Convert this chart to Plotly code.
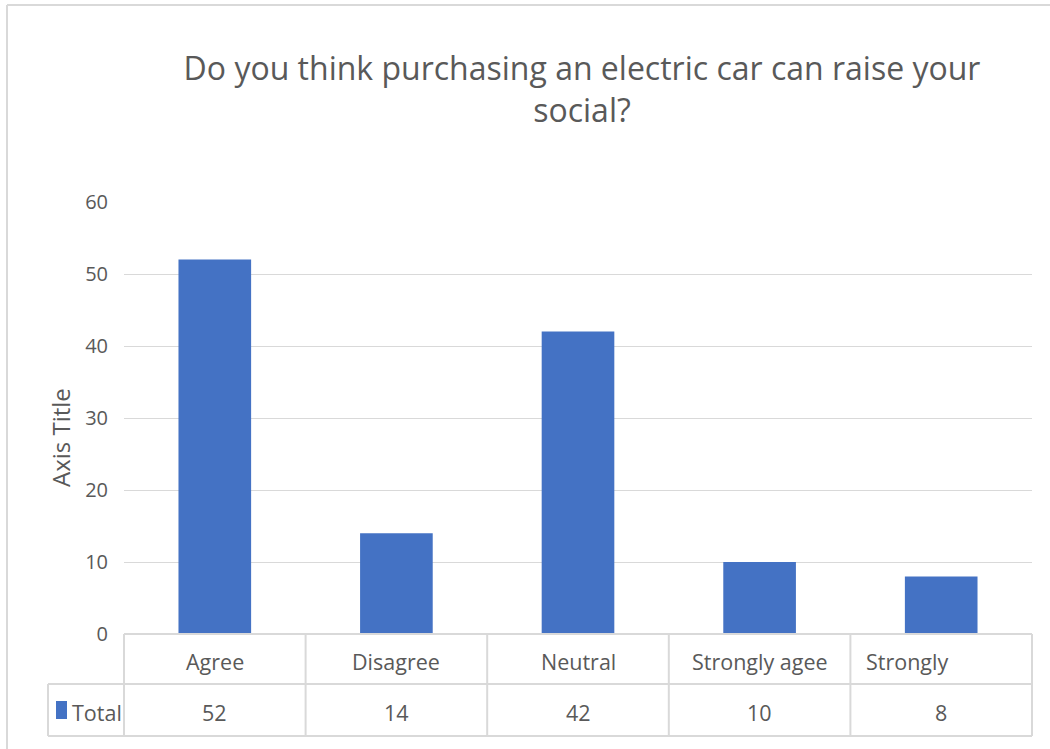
import plotly.graph_objects as go

categories = ["Agree", "Disagree", "Neutral", "Strongly agee", "Strongly"]
values = [52, 14, 42, 10, 8]
series_name = "Total"
title_text = "Do you think purchasing an electric car can raise your<br>social?"
y_title = "Axis Title"
y_ticks = [0, 10, 20, 30, 40, 50, 60]

W, H = 1050, 749
L, R, T, B = 124, 18, 202, 115
PW, PH = W - L - R, H - T - B
FONT = "Open Sans"
TXT = "#595959"
GRID = "#D9D9D9"
BLUE = "#4472C4"


def px(xpix):
    return (xpix - L) / PW


def py(ypix):
    return (H - B - ypix) / PH


fig = go.Figure()
fig.add_trace(go.Bar(x=categories, y=values, name=series_name,
                     marker=dict(color=BLUE, line=dict(width=0)),
                     showlegend=False))

shapes = []
line = dict(color=GRID, width=2)
# frame
shapes.append(dict(type="line", xref="paper", yref="paper", x0=px(7), x1=px(1052), y0=py(5), y1=py(5), line=line))
shapes.append(dict(type="line", xref="paper", yref="paper", x0=px(7), x1=px(7), y0=py(5), y1=py(751), line=line))
# table horizontal lines
row1_top, row2_top, row2_bot = 634, 684, 736
shapes.append(dict(type="line", xref="paper", yref="paper", x0=0, x1=1, y0=py(row1_top), y1=py(row1_top), line=line))
shapes.append(dict(type="line", xref="paper", yref="paper", x0=px(48), x1=1, y0=py(row2_top), y1=py(row2_top), line=line))
shapes.append(dict(type="line", xref="paper", yref="paper", x0=px(48), x1=1, y0=py(row2_bot), y1=py(row2_bot), line=line))
shapes.append(dict(type="line", xref="paper", yref="paper", x0=px(48), x1=px(48), y0=py(row2_top), y1=py(row2_bot), line=line))
# table vertical lines at category boundaries
n = len(categories)
for i in range(n + 1):
    shapes.append(dict(type="line", xref="paper", yref="paper", x0=i / n, x1=i / n,
                       y0=py(row1_top), y1=py(row2_bot), line=line))
# legend key
shapes.append(dict(type="rect", xref="paper", yref="paper", x0=px(56), x1=px(67), y0=py(701), y1=py(719),
                   fillcolor=BLUE, line=dict(width=0)))

cell_font = dict(family=FONT, size=21.5, color=TXT)
annotations = []
for i, (c, v) in enumerate(zip(categories, values)):
    if i == n - 1:
        annotations.append(dict(x=i / n, xref="paper", y=py(661), yref="paper", text=c, showarrow=False,
                                xanchor="left", yanchor="middle", xshift=14, font=cell_font))
    else:
        annotations.append(dict(x=c, xref="x", y=py(661), yref="paper", text=c, showarrow=False,
                                xanchor="center", yanchor="middle", font=cell_font))
    annotations.append(dict(x=c, xref="x", y=py(712), yref="paper", text=str(v), showarrow=False,
                            xanchor="center", yanchor="middle", font=cell_font))
annotations.append(dict(x=px(70), xref="paper", y=py(712), yref="paper", text=series_name, showarrow=False,
                        xanchor="left", yanchor="middle", font=cell_font))
annotations.append(dict(x=px(60), xref="paper", y=py(438), yref="paper", text=y_title, showarrow=False,
                        xanchor="center", yanchor="middle",
                        textangle=-90, font=dict(family=FONT, size=24, color=TXT)))

fig.update_layout(
    width=W, height=H,
    margin=dict(l=L, r=R, t=T, b=B),
    paper_bgcolor="white", plot_bgcolor="white",
    bargap=0.6,
    title=dict(text=title_text, x=px(582), xref="paper", xanchor="center",
               y=1 - 80 / H, yref="container", yanchor="middle",
               font=dict(family=FONT, size=32, color=TXT)),
    xaxis=dict(showticklabels=False, showgrid=False, zeroline=False, showline=False, ticks="",
               range=[-0.5, n - 0.5]),
    yaxis=dict(range=[0, 60], tickvals=y_ticks, showgrid=True, gridcolor=GRID, gridwidth=1,
               zeroline=False, showline=False, ticks="", ticklabelstandoff=15,
               tickfont=dict(family=FONT, size=20, color=TXT)),
    shapes=shapes,
    annotations=annotations,
    font=dict(family=FONT, color=TXT),
)

fig.write_html("out.html")
